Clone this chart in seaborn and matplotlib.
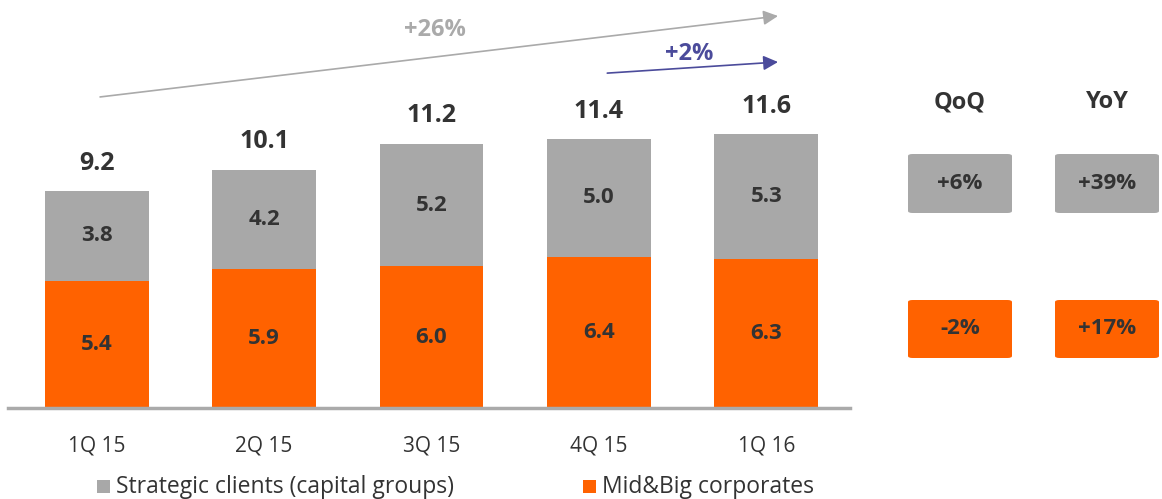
import matplotlib
matplotlib.use("Agg")
import matplotlib.pyplot as plt
from matplotlib import font_manager
from matplotlib.patches import FancyBboxPatch
import seaborn as sns
import pandas as pd

# Quarterly volumes (bn), split by client segment
quarters = ["1Q 15", "2Q 15", "3Q 15", "4Q 15", "1Q 16"]
mid_big = [5.4, 5.9, 6.0, 6.4, 6.3]
strategic = [3.8, 4.2, 5.2, 5.0, 5.3]
totals = [9.2, 10.1, 11.2, 11.4, 11.6]

seg_labels = ["Strategic clients (capital groups)", "Mid&Big corporates"]
growth_headers = ["QoQ", "YoY"]
strategic_growth = ["+6%", "+39%"]
mid_big_growth = ["-2%", "+17%"]
trend_total = "+26%"
trend_last = "+2%"

GRAY = "#A8A8A8"
ORANGE = "#FF6200"
TEXT = "#333333"
PURPLE = "#4B4B9B"

sns.set_theme(style="white")
names = {f.name for f in font_manager.fontManager.ttflist}
family = next((f for f in ["Open Sans", "Lato", "DejaVu Sans"] if f in names), "DejaVu Sans")
plt.rcParams["font.family"] = [family, "DejaVu Sans"]

df = pd.DataFrame({"quarter": quarters, "mid_big": mid_big,
                   "strategic": strategic, "total": totals})

fig = plt.figure(figsize=(11.62, 4.99), dpi=100)
W, H = 1162, 499
ax = fig.add_axes([8 / W, (H - 408) / H, (850 - 8) / W, 408 / H])

sns.barplot(data=df, x="quarter", y="total", color=GRAY, saturation=1,
            width=0.62, linewidth=0, ax=ax)
sns.barplot(data=df, x="quarter", y="mid_big", color=ORANGE, saturation=1,
            width=0.62, linewidth=0, ax=ax)

ax.set_xlim(-0.53, 4.5)
ax.set_ylim(0, 408 / 23.6)
ax.set_xlabel("")
ax.set_ylabel("")
ax.set_yticks([])
for s in ["top", "left", "right"]:
    ax.spines[s].set_visible(False)
ax.spines["bottom"].set_color("#AAAAAA")
ax.spines["bottom"].set_linewidth(2.5)
ax.tick_params(axis="x", length=0, pad=20, labelsize=15, labelcolor=TEXT)

for i, (m, s, t) in enumerate(zip(mid_big, strategic, totals)):
    ax.text(i, m / 2, f"{m:.1f}", ha="center", va="center", fontsize=16,
            fontweight="bold", color=TEXT)
    ax.text(i, m + s / 2, f"{s:.1f}", ha="center", va="center", fontsize=16,
            fontweight="bold", color=TEXT)
    ax.annotate(f"{t:.1f}", (i, t), xytext=(0, 20), textcoords="offset points",
                ha="center", va="center", fontsize=18, fontweight="bold",
                color=TEXT)

# Growth arrows above the bars
ax.annotate("", xy=(4.07, 16.61), xytext=(0.02, 13.18),
            arrowprops=dict(arrowstyle="-|>", color="#AAAAAA", lw=1.2,
                            mutation_scale=22, shrinkA=0, shrinkB=0),
            annotation_clip=False)
ax.text(2.02, 16.0, trend_total, ha="center", va="center", fontsize=17,
        fontweight="bold", color="#AAAAAA")
ax.annotate("", xy=(4.07, 14.66), xytext=(3.05, 14.19),
            arrowprops=dict(arrowstyle="-|>", color=PURPLE, lw=1.2,
                            mutation_scale=22, shrinkA=0, shrinkB=0),
            annotation_clip=False)
ax.text(3.54, 14.98, trend_last, ha="center", va="center", fontsize=17,
        fontweight="bold", color=PURPLE)

# Growth boxes on the right
col_x = [(908, 1012), (1055, 1159)]
rows = [((154, 213), GRAY, strategic_growth), ((300, 358), ORANGE, mid_big_growth)]
for (x0, x1), hdr in zip(col_x, growth_headers):
    fig.text((x0 + x1) / 2 / W, 1 - 102 / H, hdr, ha="center", va="center",
             fontsize=17, fontweight="bold", color=TEXT)
for (y0, y1), col, vals in rows:
    for (x0, x1), v in zip(col_x, vals):
        box = FancyBboxPatch((x0 / W, 1 - y1 / H), (x1 - x0) / W, (y1 - y0) / H,
                             boxstyle="round,pad=0,rounding_size=0.004",
                             transform=fig.transFigure, facecolor=col,
                             edgecolor="none")
        fig.patches.append(box)
        fig.text((x0 + x1) / 2 / W, 1 - (y0 + y1) / 2 / H, v, ha="center",
                 va="center", fontsize=16, fontweight="bold", color=TEXT)

# Legend row
leg = [(97, GRAY, seg_labels[0]), (583, ORANGE, seg_labels[1])]
for x, col, lab in leg:
    fig.patches.append(FancyBboxPatch((x / W, 1 - 493 / H), 13 / W, 13 / H,
                                      boxstyle="square,pad=0",
                                      transform=fig.transFigure,
                                      facecolor=col, edgecolor="none"))
    fig.text((x + 19) / W, 1 - 487 / H, lab, ha="left", va="center",
             fontsize=16.5, color=TEXT)

fig.savefig("out.png", dpi=100)
